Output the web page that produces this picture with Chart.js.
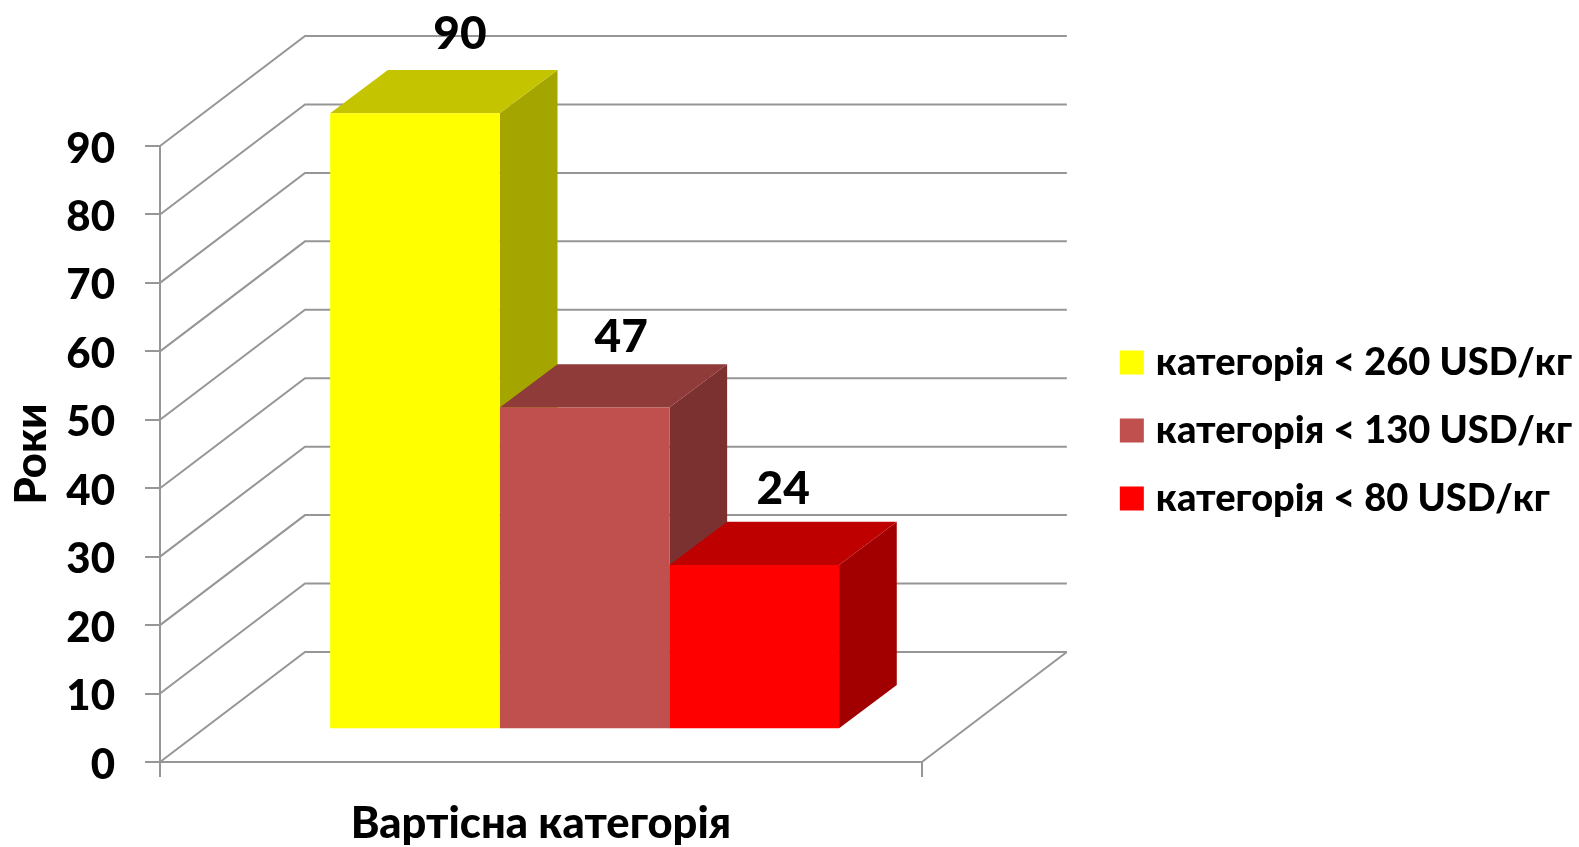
<!DOCTYPE html>
<html>
<head>
<meta charset="utf-8">
<title>Вартісна категорія</title>
<script src="https://cdn.jsdelivr.net/npm/chart.js@4"></script>
<style>
  html, body { margin: 0; padding: 0; background: #fff; }
  canvas { display: block; }
</style>
</head>
<body>
<canvas id="myChart" width="1579" height="847"></canvas>
<script>
// Sample data
const categories = ['Вартісна категорія'];
const seriesNames = ['категорія < 260 USD/кг', 'категорія < 130 USD/кг', 'категорія < 80 USD/кг'];
const seriesValues = [90, 47, 24];
const yTitle = 'Роки';

// Colours of each bar: front, top, side
const frontColors = ['#FFFF00', '#C0504D', '#FF0000'];
const topColors = ['#C4C400', '#8E3B39', '#BE0000'];
const sideColors = ['#A5A500', '#7B3130', '#A20000'];
const gridColor = '#969696';
const FONT = 'Lato, "Open Sans", sans-serif';
const WEIGHT = '900';

// 3d look: depth of the walls, where the bars stand in it, how deep they are
const wallDepth = { x: 145, y: -110 };
const barShift = { x: 43.7, y: -32.7 };
const barDepth = { x: 57.7, y: -43.3 };
// Data labels sit by hand in the original
const labelNudge = [{ x: 45, y: -79 }, { x: 36.6, y: -70 }, { x: 29, y: -75.6 }];

function fillPoly(ctx, color, pts) {
  ctx.fillStyle = color;
  ctx.beginPath();
  pts.forEach((p, i) => (i ? ctx.lineTo(p[0], p[1]) : ctx.moveTo(p[0], p[1])));
  ctx.closePath();
  ctx.fill();
}

function barBox(chart, index) {
  const bar = chart.getDatasetMeta(index).data[0];
  const left = bar.x - bar.width / 2 + barShift.x;
  return { left: left, right: left + bar.width, top: bar.y + barShift.y, base: bar.base + barShift.y, mid: bar.x + barShift.x };
}

// The layout caps a side legend at a quarter of the page or so, this one needs more
const wideLegend = {
  id: 'wideLegend',
  beforeLayout(chart) {
    const legend = chart.legend;
    if (legend.wide) return;
    legend.wide = true;
    const fit = legend.fit;
    legend.fit = function () {
      this.maxWidth = 520;
      fit.call(this);
    };
  }
};

const box3d = {
  id: 'box3d',
  beforeDatasetsDraw(chart) {
    const ctx = chart.ctx;
    const { x, y } = chart.scales;
    const x0 = x.left, x1 = x.right;

    // side walls and floor
    ctx.save();
    ctx.strokeStyle = gridColor;
    ctx.lineWidth = 2;
    y.ticks.forEach((tick) => {
      const py = y.getPixelForValue(tick.value);
      ctx.beginPath();
      ctx.moveTo(x0, py);
      ctx.lineTo(x0 + wallDepth.x, py + wallDepth.y);
      ctx.lineTo(x1 + wallDepth.x, py + wallDepth.y);
      ctx.stroke();
    });
    const py0 = y.getPixelForValue(0);
    ctx.beginPath();
    ctx.moveTo(x1, py0);
    ctx.lineTo(x1 + wallDepth.x, py0 + wallDepth.y);
    ctx.stroke();
    ctx.restore();

    // top and side of bars, left to right so that the next one covers the last
    seriesValues.forEach((v, i) => {
      const b = barBox(chart, i);
      fillPoly(ctx, sideColors[i], [
        [b.right, b.top], [b.right + barDepth.x, b.top + barDepth.y],
        [b.right + barDepth.x, b.base + barDepth.y], [b.right, b.base]
      ]);
      fillPoly(ctx, topColors[i], [
        [b.left, b.top], [b.left + barDepth.x, b.top + barDepth.y],
        [b.right + barDepth.x, b.top + barDepth.y], [b.right, b.top]
      ]);
    });

    // front faces are moved back into the box
    ctx.save();
    ctx.translate(barShift.x, barShift.y);
  },
  afterDatasetsDraw(chart) {
    const ctx = chart.ctx;
    ctx.restore();

    ctx.save();
    ctx.fillStyle = '#000';
    ctx.font = WEIGHT + ' 46px ' + FONT;
    ctx.textAlign = 'center';
    ctx.textBaseline = 'middle';
    seriesValues.forEach((v, i) => {
      const b = barBox(chart, i);
      ctx.fillText(String(v), b.mid + labelNudge[i].x, b.top + labelNudge[i].y);
    });
    ctx.restore();
  }
};

const ctx = document.getElementById('myChart').getContext('2d');
const myChart = new Chart(ctx, {
  type: 'bar',
  data: {
    labels: categories,
    datasets: seriesNames.map((name, i) => ({
      label: name,
      data: [seriesValues[i]],
      backgroundColor: frontColors[i],
      borderWidth: 0,
      barPercentage: 1,
      categoryPercentage: 0.668,
      clip: false
    }))
  },
  plugins: [wideLegend, box3d],
  options: {
    responsive: false,
    animation: false,
    devicePixelRatio: 1,
    layout: { padding: { top: 14, right: -3, bottom: 0, left: 0 } },
    scales: {
      x: {
        offset: true,
        grid: { offset: true, drawOnChartArea: false, color: gridColor, lineWidth: 2, tickLength: 15, tickColor: gridColor },
        border: { color: gridColor, width: 2 },
        ticks: { display: false },
        title: { display: true, text: categories[0], color: '#000', font: { family: FONT, size: 43.5, weight: WEIGHT, lineHeight: 1.05 }, padding: { top: 0, bottom: 0 } },
        afterFit(scale) { scale.height = 85; }
      },
      // empty axis, keeps the plot down to where the walls begin
      x2: {
        position: 'top',
        fullSize: false,
        grid: { display: false },
        border: { display: false },
        ticks: { display: false },
        afterFit(scale) { scale.height = 132; }
      },
      y: {
        min: 0,
        max: 90,
        ticks: { stepSize: 10, color: '#000', padding: 30, labelOffset: 3, font: { family: FONT, size: 42, weight: WEIGHT } },
        grid: { drawOnChartArea: false, color: gridColor, lineWidth: 2, tickLength: 15, tickColor: gridColor },
        border: { color: gridColor, width: 2 },
        title: { display: true, text: yTitle, color: '#000', font: { family: FONT, size: 43.5, weight: WEIGHT }, padding: { top: 6, bottom: 0 } },
        afterFit(scale) { scale.width = 160; }
      },
      // empty axis, room for the walls between the plot and the legend
      y2: {
        position: 'right',
        grid: { display: false },
        border: { display: false },
        ticks: { display: false },
        afterFit(scale) { scale.width = 175; }
      }
    },
    plugins: {
      tooltip: { enabled: false },
      legend: {
        position: 'right',
        labels: {
          color: '#000',
          font: { family: FONT, size: 38, weight: WEIGHT },
          usePointStyle: true,
          pointStyle: 'rect',
          boxWidth: 10,
          boxHeight: 24,
          padding: 30
        }
      }
    }
  }
});
window.myChart = myChart;
</script>
</body>
</html>
